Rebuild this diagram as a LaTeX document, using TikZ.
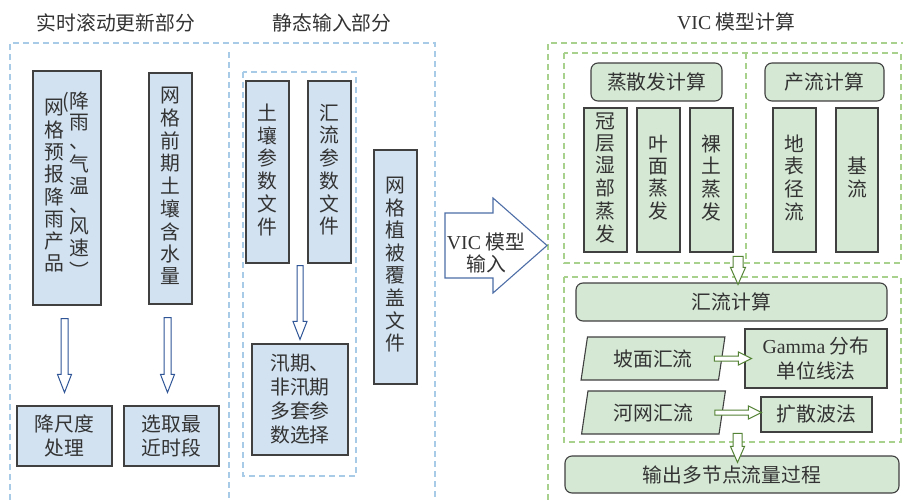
\documentclass[tikz,border=0pt]{standalone}
\usepackage{fontspec}
\setmainfont{Liberation Serif}
\newfontfamily\cjk{Noto Sans CJK SC}
\usetikzlibrary{calc,shapes.geometric}
\definecolor{bfill}{HTML}{D2E2F1}
\definecolor{gfill}{HTML}{D5E8D4}
\definecolor{bdr}{HTML}{404040}
\definecolor{bdash}{HTML}{A8CBE8}
\definecolor{gdash}{HTML}{A9D18E}
\definecolor{barrow}{HTML}{2F5597}
\definecolor{garrow}{HTML}{548235}
\definecolor{txt}{HTML}{333333}
\newcommand\vcol[1]{\begin{tabular}{@{}c@{}}#1\end{tabular}}
% down hollow arrow: from, to, shaft half width, head half width, head length, style
\newcommand\dnarr[6]{\path[#6] let \p1=(#1), \p2=(#2) in
  (\x1-#3pt,\y1) -- (\x1+#3pt,\y1) -- (\x1+#3pt,\y2+#5pt) -- (\x1+#4pt,\y2+#5pt)
  -- (\x1,\y2) -- (\x1-#4pt,\y2+#5pt) -- (\x1-#3pt,\y2+#5pt) -- cycle;}
% right hollow arrow
\newcommand\rtarr[6]{\path[#6] let \p1=(#1), \p2=(#2) in
  (\x1,\y1+#3pt) -- (\x2-#5pt,\y1+#3pt) -- (\x2-#5pt,\y1+#4pt) -- (\x2,\y1)
  -- (\x2-#5pt,\y1-#4pt) -- (\x2-#5pt,\y1-#3pt) -- (\x1,\y1-#3pt) -- cycle;}
\tikzset{
  every node/.style={inner sep=0pt, text=txt, font=\cjk\fontsize{19.8}{20.3}\selectfont},
  bbox/.style={draw=bdr, line width=1.1pt, fill=bfill},
  gbox/.style={draw=bdr, line width=1.1pt, fill=gfill},
  grbox/.style={gbox, rounded corners=7pt},
  gpar/.style={gbox, trapezium, trapezium left angle=78, trapezium right angle=102,
    trapezium stretches=true},
  bdashed/.style={draw=bdash, line width=1.1pt, dash pattern=on 6pt off 4pt},
  gdashed/.style={draw=gdash, line width=1.1pt, dash pattern=on 6pt off 4pt},
  barr/.style={draw=barrow, fill=white, line width=1pt, line join=miter},
  garr/.style={draw=garrow, fill=white, line width=1pt, line join=miter},
  twoline/.style={align=center, font=\cjk\fontsize{19.8}{24}\selectfont},
}
\begin{document}
\begin{tikzpicture}[x=1pt,y=-1pt]
\useasboundingbox (0,0) rectangle (903,501);
\fill[white] (0,0) rectangle (903,501);

% titles
\node (t1) at (116,23) {实时滚动更新部分};
\node (t2) at (332,23) {静态输入部分};
\node (t3) at (736,22) {{\rmfamily VIC} 模型计算};

% dashed regions
\draw[bdashed] (10,520) -- (10,43) -- (435,43) -- (435,520);
\draw[bdashed] (229,52) -- (229,520);
\draw[bdashed] (243,72) rectangle (356,476);
\draw[gdashed] (548,520) -- (548,43) -- (920,43);
\draw[gdashed] (564,53) rectangle (901,263);
\draw[gdashed] (746,53) -- (746,263);
\draw[gdashed] (564,277) rectangle (901,442);

% left part
\node[bbox, minimum width=68pt, minimum height=234pt] (A) at (67,188)
  {\vcol{网\\格\\预\\报\\降\\雨\\产\\品}\hspace{5pt}{\fontsize{19.8}{19}\selectfont\vcol{\llap{(}降\\雨\\、\\气\\温\\、\\风\\速\\︶}}};
\node[bbox, minimum width=43pt, minimum height=231pt] (B) at (170.5,188.5)
  {\vcol{网\\格\\前\\期\\土\\壤\\含\\水\\量}};
\node[bbox, twoline, minimum width=95pt, minimum height=60pt] (C) at (64.5,436) {降尺度\\处理};
\node[bbox, twoline, minimum width=95pt, minimum height=60pt] (D) at (171.5,436) {选取最\\近时段};
\dnarr{$(A.south -| C.north)+(0,13)$}{$(C.north)+(0,-13)$}{3.5}{7}{18}{barr}
\dnarr{$(B.south)+(-3,13)$}{$(D.north)+(-4,-13)$}{3.5}{7}{18}{barr}

% middle part
\node[bbox, minimum width=43pt, minimum height=182pt] (E) at (267.5,172)
  {\vcol{土\\壤\\参\\数\\文\\件}};
\node[bbox, minimum width=43pt, minimum height=182pt] (F) at (329.5,172)
  {\vcol{汇\\流\\参\\数\\文\\件}};
\node[bbox, twoline, minimum width=96pt, minimum height=111pt] (G) at (300,399.5)
  {汛期、\\非汛期\\多套参\\数选择};
\node[bbox, minimum width=43pt, minimum height=234pt] (H) at (395.5,267)
  {\vcol{网\\格\\植\\被\\覆\\盖\\文\\件}};
\dnarr{$(E.south -| G.north)+(0,2)$}{$(G.north)+(0,-4)$}{3}{7}{18}{barr}

% big input arrow
\draw[draw=barrow!85!white, fill=white, line width=1.1pt, line join=miter]
  (445,213) -- (493,213) -- (493,198) -- (547,245.5) -- (493,293) -- (493,278) -- (445,278) -- cycle;
\node[align=center, font=\cjk\fontsize{19.8}{22}\selectfont] (vicin) at (486,253) {{\rmfamily VIC} 模型\\输入};

% right part: evaporation & runoff
\node[grbox, minimum width=131pt, minimum height=38pt] (ET) at (656.5,82) {蒸散发计算};
\node[grbox, minimum width=119pt, minimum height=38pt] (RF) at (824.5,82) {产流计算};
\node[gbox, minimum width=43pt, minimum height=144pt] (V1) at (605.5,180) {\vcol{冠\\层\\湿\\部\\蒸\\发}};
\node[gbox, minimum width=43pt, minimum height=144pt] (V2) at (658.5,180) {\vcol{叶\\面\\蒸\\发}};
\node[gbox, minimum width=43pt, minimum height=144pt] (V3) at (711.5,180) {\vcol{裸\\土\\蒸\\发}};
\node[gbox, minimum width=43pt, minimum height=144pt] (V4) at (794.5,180) {\vcol{地\\表\\径\\流}};
\node[gbox, minimum width=42pt, minimum height=144pt] (V5) at (857,180) {\vcol{基\\流}};

% routing
\node[grbox, minimum width=311pt, minimum height=38pt] (RT) at (731.5,302) {汇流计算};
\node[gpar, minimum width=144pt, minimum height=43pt] (P1) at (653,358.5) {坡面汇流};
\node[gbox, align=center, font=\cjk\fontsize{19.8}{25}\selectfont, minimum width=142pt, minimum height=59pt] (GM) at (816,358.5)
  {{\rmfamily Gamma} 分布\\单位线法};
\node[gpar, minimum width=144pt, minimum height=43pt] (P2) at (653.5,412.5) {河网汇流};
\node[gbox, minimum width=111pt, minimum height=35pt] (KS) at (816.5,414.5) {扩散波法};
\node[grbox, minimum width=334pt, minimum height=37pt] (OUT) at (732,474.5) {输出多节点流量过程};

\dnarr{$(RT.north)+(6.5,-26)$}{$(RT.north)+(6.5,2)$}{5}{7.5}{17}{garr}
\rtarr{$(P1.east)+(-8,0)$}{$(GM.west)+(7,0)$}{2.5}{6.5}{13}{garr}
\rtarr{$(P2.east)+(-8,0)$}{$(KS.west)+(1,0)$}{2.5}{6.5}{13}{garr}
\dnarr{$(OUT.north)+(5.5,-22)$}{$(OUT.north)+(5.5,7)$}{4.5}{7}{16}{garr}
\end{tikzpicture}
\end{document}
